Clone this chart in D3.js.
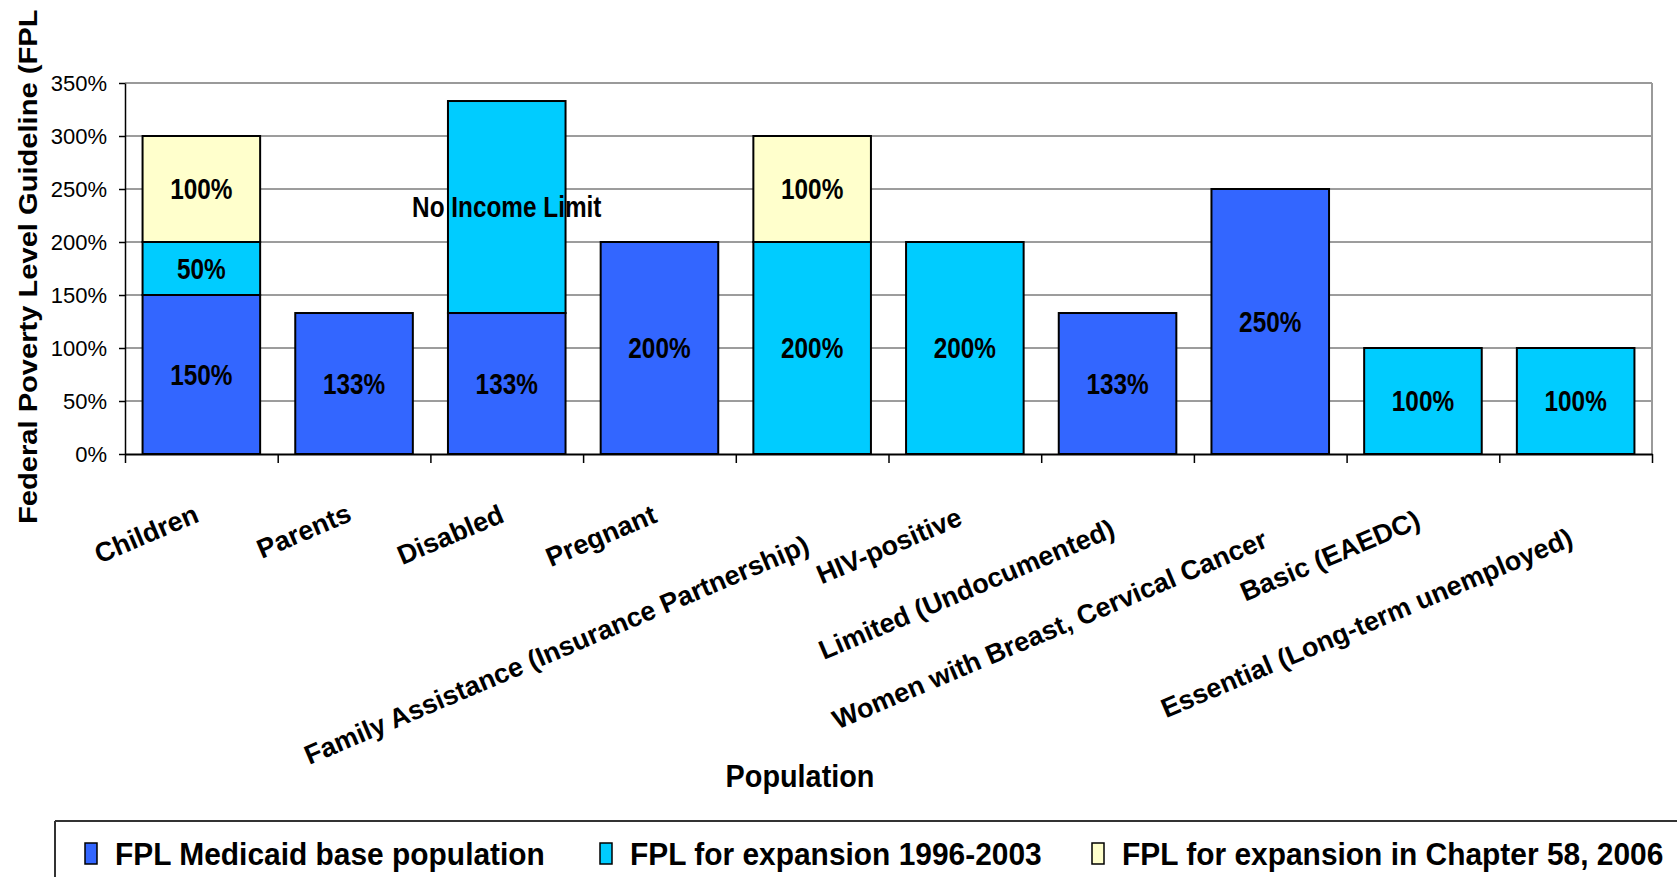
<!DOCTYPE html>
<html>
<head>
<meta charset="utf-8">
<script src="https://cdn.jsdelivr.net/npm/d3@7/dist/d3.min.js"></script>
<style>
  html, body { margin: 0; padding: 0; background: #ffffff; }
  svg { display: block; }
</style>
</head>
<body>
<script>
// ---------------- data ----------------
const categories = [
  "Children",
  "Parents",
  "Disabled",
  "Pregnant",
  "Family Assistance (Insurance Partnership)",
  "HIV-positive",
  "Limited (Undocumented)",
  "Women with Breast, Cervical Cancer",
  "Basic (EAEDC)",
  "Essential (Long-term unemployed)"
];
const baseValues      = [150, 133, 133, 200,   0,   0, 133, 250,   0,   0];
const expansionValues = [ 50,   0, 200,   0, 200, 200,   0,   0, 100, 100];
const chapter58Values = [100,   0,   0,   0, 100,   0,   0,   0,   0,   0];
const seriesKeys  = ["base", "expansion", "chapter58"];
const seriesNames = [
  "FPL Medicaid base population",
  "FPL for expansion 1996-2003",
  "FPL for expansion in Chapter 58, 2006"
];
const seriesColors = ["#3366FF", "#00CCFF", "#FFFFCC"];
const yTicks = [0, 50, 100, 150, 200, 250, 300, 350];
const expansionNotes = { "Disabled": "No Income Limit" };
const yTitle = "Federal Poverty Level Guideline (FPL";
const xTitle = "Population";

// ---------------- layout ----------------
const W = 1677, H = 877;
const plot = { left: 125, right: 1652, top: 83, bottom: 454 };
const FONT = "'Liberation Sans', Arial, Helvetica, sans-serif";

const svg = d3.select("body").append("svg")
  .attr("width", W).attr("height", H)
  .style("font-family", FONT);

svg.append("rect").attr("width", W).attr("height", H).attr("fill", "#ffffff");

const x = d3.scaleBand()
  .domain(categories)
  .range([plot.left, plot.right])
  .paddingInner(0.23)
  .paddingOuter(0.115);

const y = d3.scaleLinear()
  .domain([0, 350])
  .range([plot.bottom, plot.top]);

// gridlines
svg.append("g").selectAll("line")
  .data(yTicks.filter(v => v > 0 && v < 350))
  .join("line")
  .attr("x1", plot.left).attr("x2", plot.right)
  .attr("y1", d => y(d)).attr("y2", d => y(d))
  .attr("stroke", "#3a3a3a").attr("stroke-width", 1);

// plot border (top & right, gray)
svg.append("line")
  .attr("x1", plot.left).attr("x2", plot.right)
  .attr("y1", y(350)).attr("y2", y(350))
  .attr("stroke", "#9a9a9a").attr("stroke-width", 2);
svg.append("line")
  .attr("x1", plot.right).attr("x2", plot.right)
  .attr("y1", y(350)).attr("y2", y(0))
  .attr("stroke", "#9a9a9a").attr("stroke-width", 2);

// stacked data
const rows = categories.map((c, i) => ({
  cat: c,
  base: baseValues[i],
  expansion: expansionValues[i],
  chapter58: chapter58Values[i]
}));
const stacked = d3.stack().keys(seriesKeys)(rows);

const segs = [];
stacked.forEach((layer, si) => {
  layer.forEach(d => {
    if (d[1] > d[0]) {
      const cat = d.data.cat;
      let label = (d[1] - d[0]) + "%";
      if (si === 1 && expansionNotes[cat]) label = expansionNotes[cat];
      segs.push({ cat, y0: d[0], y1: d[1], si, label });
    }
  });
});

// bar fills
svg.append("g").selectAll("rect")
  .data(segs)
  .join("rect")
  .attr("x", d => x(d.cat))
  .attr("width", x.bandwidth())
  .attr("y", d => y(d.y1))
  .attr("height", d => y(d.y0) - y(d.y1))
  .attr("fill", d => seriesColors[d.si]);

// value labels (condensed bold)
const labelSize = 29, labelSx = 0.84;
svg.append("g").selectAll("text")
  .data(segs)
  .join("text")
  .attr("transform", d => {
    const cx = x(d.cat) + x.bandwidth() / 2;
    const cy = (y(d.y0) + y(d.y1)) / 2 + labelSize * 0.716 / 2;
    return `translate(${cx},${cy}) scale(${labelSx},1)`;
  })
  .attr("text-anchor", "middle")
  .attr("font-size", labelSize)
  .attr("font-weight", "bold")
  .attr("fill", "#000")
  .text(d => d.label);

// bar outlines (drawn over labels like the original)
svg.append("g").selectAll("rect")
  .data(segs)
  .join("rect")
  .attr("x", d => x(d.cat))
  .attr("width", x.bandwidth())
  .attr("y", d => y(d.y1))
  .attr("height", d => y(d.y0) - y(d.y1))
  .attr("fill", "none")
  .attr("stroke", "#000")
  .attr("stroke-width", 2);

// y axis
const yAxis = svg.append("g")
  .attr("transform", `translate(${plot.left},0)`)
  .call(d3.axisLeft(y).tickValues(yTicks).tickFormat(d => d + "%")
    .tickSize(6).tickSizeOuter(0).tickPadding(12));
yAxis.select(".domain").attr("stroke", "#000").attr("stroke-width", 1.5);
yAxis.selectAll(".tick line").attr("stroke", "#000").attr("stroke-width", 1.5);
yAxis.selectAll(".tick text")
  .attr("font-family", FONT).attr("font-size", 22).attr("fill", "#000")
  .attr("dy", "0.36em");

// x axis (ticks at category boundaries)
const xb = d3.scaleLinear().domain([0, categories.length]).range([plot.left, plot.right]);
const xAxis = svg.append("g")
  .attr("transform", `translate(0,${plot.bottom})`)
  .call(d3.axisBottom(xb).ticks(categories.length).tickFormat("")
    .tickSize(9).tickSizeOuter(0));
xAxis.select(".domain").attr("stroke", "#000").attr("stroke-width", 2);
xAxis.selectAll(".tick line").attr("stroke", "#000").attr("stroke-width", 1.5);

// category labels (rotated)
const catSize = 27;
const catLabels = svg.append("g").selectAll("text")
  .data(categories)
  .join("text")
  .attr("text-anchor", "end")
  .attr("font-size", catSize)
  .attr("font-weight", "bold")
  .attr("fill", "#000")
  .text(d => d);
catLabels.each(function (d) {
  const len = this.getComputedTextLength();
  const cx = x(d) + x.bandwidth() / 2 - 1;
  const yEnd = 521 + 0.071 * (len - 110);
  d3.select(this).attr("transform", `translate(${cx},${yEnd}) rotate(-23)`);
});

// axis titles
svg.append("text")
  .attr("transform", "translate(800,787) scale(0.93,1)")
  .attr("text-anchor", "middle")
  .attr("font-size", 31)
  .attr("font-weight", "bold")
  .attr("fill", "#000")
  .text(xTitle);

svg.append("text")
  .attr("transform", "translate(37,524) rotate(-90) scale(1.12,1)")
  .attr("text-anchor", "start")
  .attr("font-size", 26)
  .attr("font-weight", "bold")
  .attr("fill", "#000")
  .text(yTitle);

// legend
const legend = svg.append("g");
legend.append("line")
  .attr("x1", 55).attr("x2", W).attr("y1", 821).attr("y2", 821)
  .attr("stroke", "#333").attr("stroke-width", 2);
legend.append("line")
  .attr("x1", 55).attr("x2", 55).attr("y1", 821).attr("y2", H)
  .attr("stroke", "#333").attr("stroke-width", 2);

const legendX = [85, 600, 1092];
const items = legend.selectAll("g.item")
  .data(seriesNames.map((n, i) => ({ name: n, color: seriesColors[i], x: legendX[i] })))
  .join("g").attr("class", "item");
items.append("rect")
  .attr("x", d => d.x).attr("y", 843)
  .attr("width", 12).attr("height", 21)
  .attr("fill", d => d.color)
  .attr("stroke", "#000").attr("stroke-width", 1.5);
items.append("text")
  .attr("transform", d => `translate(${d.x + 30},865) scale(0.935,1)`)
  .attr("font-size", 32)
  .attr("font-weight", "bold")
  .attr("fill", "#000")
  .text(d => d.name);
</script>
</body>
</html>
